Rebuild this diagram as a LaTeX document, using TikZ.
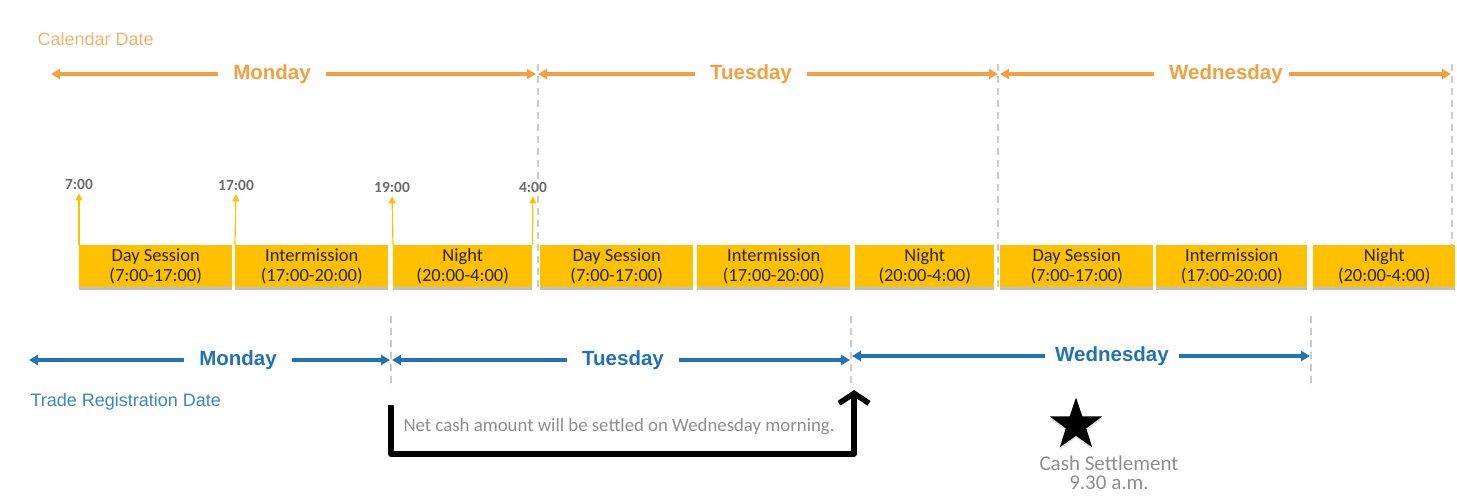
\documentclass[tikz,border=0pt]{standalone}
\usepackage{fontspec}
\setmainfont{Liberation Sans}
\newfontfamily\calfont{Carlito}
\usetikzlibrary{arrows.meta,shapes.geometric,shadows,positioning}

\definecolor{calorange}{HTML}{F3A03E}
\definecolor{callight}{HTML}{F6B36C}
\definecolor{sessyellow}{HTML}{FFC000}
\definecolor{regblue}{HTML}{2272B8}
\definecolor{reglight}{HTML}{3A86C8}
\definecolor{dashgrey}{HTML}{CBCBCB}
\definecolor{timegrey}{HTML}{6B6B6B}
\definecolor{notegrey}{HTML}{8E8E8E}

\tikzset{
  daylabel/.style={font=\fontsize{20.5}{24}\selectfont\bfseries, inner xsep=15pt, inner ysep=2pt},
  calarrow/.style={-{Triangle[length=9pt,width=10pt]}, line width=3.2pt, calorange, shorten >=1pt},
  regarrow/.style={-{Triangle[length=9pt,width=10pt]}, line width=3.2pt, regblue, shorten >=1pt},
  divider/.style={dashgrey, line width=2pt, dash pattern=on 7pt off 5pt},
  session/.style={fill=sessyellow, minimum height=42pt, anchor=north west, inner sep=0pt,
    align=center, font=\calfont\fontsize{18.5}{19.5}\selectfont, text=black!85,
    drop shadow={shadow xshift=0pt, shadow yshift=-2.5pt, opacity=0.35, fill=black!70}},
  tick/.style={-{Triangle[length=7pt,width=7pt]}, line width=1.2pt, sessyellow, shorten >=3pt},
  timelabel/.style={font=\calfont\bfseries\fontsize{15.5}{18}\selectfont, text=timegrey, inner sep=1pt},
  notetext/.style={font=\calfont\fontsize{18.8}{20}\selectfont, text=notegrey},
}

\begin{document}
\begin{tikzpicture}[x=1pt, y=-1pt]
  \useasboundingbox[fill=white] (0,0) rectangle (1457,500);

  % Calendar date row
  \node[font=\fontsize{18}{21}\selectfont, text=callight, anchor=west] (caltitle) at (34,39) {Calendar Date};
  \coordinate (c0) at (50,74);
  \coordinate (c1) at (537,74);
  \coordinate (c2) at (999,74);
  \coordinate (c3) at (1452,74);
  \node[daylabel, text=calorange] (cmon) at (272,74) {Monday};
  \node[daylabel, text=calorange] (ctue) at (751,74) {Tuesday};
  \node[daylabel, text=calorange] (cwed) at (1226,74) {Wednesday};
  \draw[calarrow] (cmon) -- (c0);
  \draw[calarrow] (cmon) -- (c1);
  \draw[calarrow] (ctue) -- (c1);
  \draw[calarrow] (ctue) -- (c2);
  \draw[calarrow] (cwed) -- (c2);
  \draw[calarrow, shorten <=-9pt] (cwed) -- (c3);

  % Day boundaries
  \foreach \x in {538, 998, 1452}
    \draw[divider] (\x,64) -- (\x,292);
  \foreach \x in {391, 851, 1311}
    \draw[divider] (\x,316) -- (\x,388);

  % Sessions
  \foreach \x/\w/\name/\hours [count=\i] in {
      79/153/Day Session/7:00-17:00, 235/153/Intermission/17:00-20:00, 393/139/Night/20:00-4:00,
      540/153/Day Session/7:00-17:00, 697/153/Intermission/17:00-20:00, 855/139/Night/20:00-4:00,
      1000/153/Day Session/7:00-17:00, 1156/151/Intermission/17:00-20:00, 1313/142/Night/20:00-4:00}
    \node[session, minimum width=\w pt] (s\i) at (\x,245) {\name\\(\hours)};

  % Time marks
  \node[timelabel] (t1) at (79,184) {7:00};
  \node[timelabel] (t2) at (236,185) {17:00};
  \node[timelabel] (t3) at (392,187) {19:00};
  \node[timelabel] (t4) at (533,187) {4:00};
  \draw[tick] (s1.north west) -- (t1.south);
  \draw[tick] (s2.north west) -- (t2.south);
  \draw[tick] (s3.north west) -- (t3.south);
  \draw[tick] (s3.north east) -- (t4.south);

  % Trade registration row
  \coordinate (r0) at (28,360);
  \coordinate (r1) at (391,360);
  \coordinate (r2) at (851,360);
  \coordinate (r2b) at (851,356);
  \coordinate (r3) at (1311,356);
  \node[daylabel, text=regblue] (rmon) at (238,360) {Monday};
  \node[daylabel, text=regblue] (rtue) at (623,360) {Tuesday};
  \node[daylabel, text=regblue, inner xsep=10pt] (rwed) at (1112,356) {Wednesday};
  \draw[regarrow] (rmon) -- (r0);
  \draw[regarrow] (rmon) -- (r1);
  \draw[regarrow] (rtue) -- (r1);
  \draw[regarrow] (rtue) -- (r2);
  \draw[regarrow] (rwed) -- (r2b);
  \draw[regarrow] (rwed) -- (r3);
  \node[font=\fontsize{18}{21}\selectfont, text=reglight, anchor=west] (regtitle) at (27,402) {Trade Registration Date};

  % Settlement path
  \coordinate (b1) at (391,405);
  \coordinate (b2) at (854,390);
  \draw[line width=5.5pt, line join=round, -{Straight Barb[length=10pt,width=30pt]}]
    (b1) -- ++(0,49) -| (b2);
  \node[notetext, anchor=west] (note) at (400,427) {Net cash amount will be settled on Wednesday morning.};

  % Cash settlement
  \node[star, star points=5, star point ratio=2.55, minimum size=55pt, inner sep=0pt, fill=black,
    drop shadow={shadow xshift=0pt, shadow yshift=-2pt, opacity=0.25}] (settle) at (1076,425) {};
  \node[font=\calfont\fontsize{21}{19.5}\selectfont, text=notegrey, align=center] (settletext) at (1109,473)
    {Cash Settlement\\9.30 a.m.};
\end{tikzpicture}
\end{document}
